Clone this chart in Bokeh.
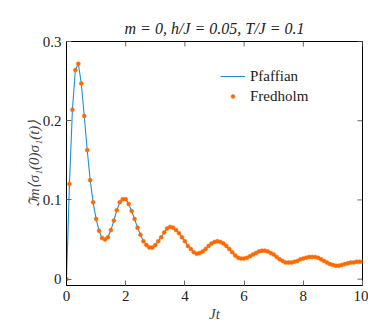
import math
from bokeh.plotting import figure
from bokeh.models import Range1d, FixedTicker
from bokeh.embed import file_html
from bokeh.resources import INLINE

# sample times Jt (step 0.1 from 0 to 10)
t = [round(i * 0.1, 1) for i in range(101)]

# Im <sigma1(0) sigma1(t)>  (Pfaffian curve and Fredholm points coincide)
pfaffian = [
    0.000, 0.120, 0.214, 0.264, 0.272, 0.247, 0.206, 0.163, 0.125, 0.097,
    0.076, 0.061, 0.052, 0.050, 0.053, 0.062, 0.074, 0.087, 0.097, 0.101,
    0.101, 0.095, 0.086, 0.076, 0.065, 0.056, 0.048, 0.043, 0.040, 0.040,
    0.043, 0.048, 0.053, 0.059, 0.064, 0.066, 0.065, 0.062, 0.058, 0.053,
    0.048, 0.042, 0.038, 0.034, 0.032, 0.033, 0.035, 0.038, 0.042, 0.045,
    0.047, 0.048, 0.047, 0.045, 0.042, 0.038, 0.034, 0.030, 0.027, 0.026,
    0.026, 0.027, 0.029, 0.031, 0.033, 0.035, 0.036, 0.036, 0.035, 0.033,
    0.031, 0.028, 0.025, 0.023, 0.021, 0.021, 0.021, 0.022, 0.023, 0.025,
    0.026, 0.027, 0.028, 0.028, 0.028, 0.027, 0.025, 0.023, 0.021, 0.019,
    0.018, 0.017, 0.017, 0.018, 0.019, 0.020, 0.021, 0.021, 0.022, 0.022,
    0.022,
]
fredholm = list(pfaffian)

x_ticks = [0, 2, 4, 6, 8, 10]
y_ticks = [0, 0.1, 0.2, 0.3]
y_tick_labels = {0: "0", 0.1: "0.1", 0.2: "0.2", 0.3: "0.3"}

title_text = "m = 0, h/J = 0.05, T/J = 0.1"
x_label = "Jt"
y_label = "ℑm⟨σ₁(0)σ₁(t)⟩"

FONT = "Liberation Serif"
X_MIN, X_MAX = 0, 10
Y_MIN, Y_MAX = -0.008, 0.3

p = figure(width=368, height=324, x_range=Range1d(X_MIN, X_MAX), y_range=Range1d(Y_MIN, Y_MAX),
           output_backend="svg", toolbar_location=None, title=title_text,
           min_border_left=66, min_border_right=6, min_border_top=41, min_border_bottom=38)
p.xgrid.visible = False
p.ygrid.visible = False
p.outline_line_color = "black"
p.background_fill_color = "white"
p.border_fill_color = "white"

p.title.align = "center"
p.title.offset = 11
p.title.text_font = FONT
p.title.text_font_style = "italic"
p.title.text_font_size = "16px"
p.title.text_color = "#222222"
p.title.standoff = 9

p.line(t, pfaffian, line_color="#1f8fd1", line_width=1.1, legend_label="Pfaffian")
p.scatter(t, fredholm, size=4, fill_color="#ff6a00", line_color="#ff6a00",
          line_width=0.5, legend_label="Fredholm")

# mirrored inward ticks on the top and right edges of the frame
p.ray(x=x_ticks, y=[Y_MAX] * len(x_ticks), length=5, length_units="screen",
      angle=-math.pi / 2, line_color="#666666", line_width=1)
p.ray(x=[X_MAX] * len(y_ticks), y=y_ticks, length=5, length_units="screen",
      angle=math.pi, line_color="#666666", line_width=1)

def style_axis(ax):
    ax.axis_line_color = "black"
    ax.major_tick_in = 5
    ax.major_tick_out = 0
    ax.major_tick_line_color = "#666666"
    ax.minor_tick_line_color = None
    ax.major_label_text_font = FONT
    ax.major_label_text_font_size = "15px"
    ax.major_label_text_color = "#222222"
    ax.major_label_standoff = 5

xa = p.xaxis[0]
xa.ticker = FixedTicker(ticks=x_ticks)
style_axis(xa)
xa.axis_label = x_label
xa.axis_label_text_font = FONT
xa.axis_label_text_font_style = "italic"
xa.axis_label_text_font_size = "15px"
xa.axis_label_standoff = 2
xa.axis_label_text_baseline = "top"

ya = p.yaxis[0]
ya.ticker = FixedTicker(ticks=y_ticks)
ya.major_label_overrides = y_tick_labels
style_axis(ya)
ya.axis_label = y_label
ya.axis_label_text_font = FONT
ya.axis_label_text_font_style = "italic"
ya.axis_label_text_font_size = "15px"
ya.axis_label_standoff = -2

lg = p.legend[0]
lg.location = (154, 179)
lg.border_line_color = None
lg.background_fill_alpha = 0
lg.padding = 0
lg.margin = 0
lg.spacing = 0
lg.glyph_width = 25
lg.glyph_height = 10
lg.label_height = 20
lg.label_standoff = 5
lg.label_text_font = FONT
lg.label_text_font_size = "15px"
lg.label_text_color = "#222222"

open("out.html", "w").write(file_html(p, INLINE))
